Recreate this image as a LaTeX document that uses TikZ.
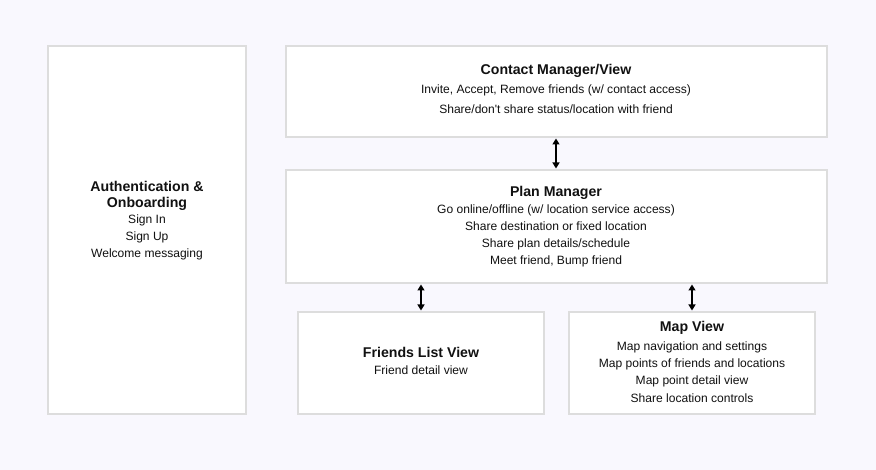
\documentclass[tikz,border=0pt]{standalone}
\usepackage{fontspec}
\setmainfont{Liberation Sans}[Ligatures=TeXOff]
\usetikzlibrary{arrows.meta}
\definecolor{bg}{RGB}{249,248,254}
\definecolor{edge}{RGB}{221,221,221}
\definecolor{ink}{RGB}{17,17,17}
\tikzset{
  box/.style={draw=edge, line width=1.5bp, fill=white},
  ttl/.style={anchor=base, inner sep=0pt, font=\fontsize{14.2}{16}\selectfont\bfseries, text=ink},
  txt/.style={anchor=base, inner sep=0pt, font=\fontsize{12.1}{14}\selectfont, text=ink},
  link/.style={line width=1.3bp, {Triangle[length=6bp,width=7bp]}-{Triangle[length=6bp,width=7bp]}, shorten <=1.5bp, shorten >=1.5bp}
}
\begin{document}
\begin{tikzpicture}[x=1bp,y=-1bp]
\useasboundingbox (0,0) rectangle (876,470);
\fill[bg] (0,0) rectangle (876,470);
% boxes
\draw[box] (48,46) rectangle (246,414);
\draw[box] (286,46) rectangle (827,137);
\coordinate (contactS) at (556,137);
\draw[box] (286,170) rectangle (827,283);
\coordinate (planN) at (556,170);
\coordinate (planS1) at (421,283);
\coordinate (planS2) at (692,283);
\draw[box] (298,312) rectangle (544,414);
\coordinate (friendsN) at (421,312);
\draw[box] (569,312) rectangle (815,414);
\coordinate (mapN) at (692,312);
% auth text
\node[ttl] (a1) at (147,192) {Authentication \&};
\node[ttl] (a2) at (147,208) {Onboarding};
\node[txt] (a3) at (147,224) {Sign In};
\node[txt] (a4) at (147,241) {Sign Up};
\node[txt] (a5) at (147,258) {Welcome messaging};
% contact
\node[ttl] (c1) at (556,75) {Contact Manager/View};
\node[txt] (c2) at (556,94) {Invite, Accept, Remove friends (w/ contact access)};
\node[txt] (c3) at (556,114) {Share/don't share status/location with friend};
% plan
\node[ttl] (p1) at (556,197) {Plan Manager};
\node[txt] (p2) at (556,214) {Go online/offline (w/ location service access)};
\node[txt] (p3) at (556,231) {Share destination or fixed location};
\node[txt] (p4) at (556,248) {Share plan details/schedule};
\node[txt] (p5) at (556,265) {Meet friend, Bump friend};
% friends
\node[ttl] (f1) at (421,358) {Friends List View};
\node[txt] (f2) at (421,375) {Friend detail view};
% map
\node[ttl] (m1) at (692,332) {Map View};
\node[txt] (m2) at (692,351) {Map navigation and settings};
\node[txt] (m3) at (692,368) {Map points of friends and locations};
\node[txt] (m4) at (692,385) {Map point detail view};
\node[txt] (m5) at (692,402) {Share location controls};
% connectors
\draw[link] (contactS) -- (planN);
\draw[link] (planS1) -- (friendsN);
\draw[link] (planS2) -- (mapN);
\end{tikzpicture}
\end{document}
